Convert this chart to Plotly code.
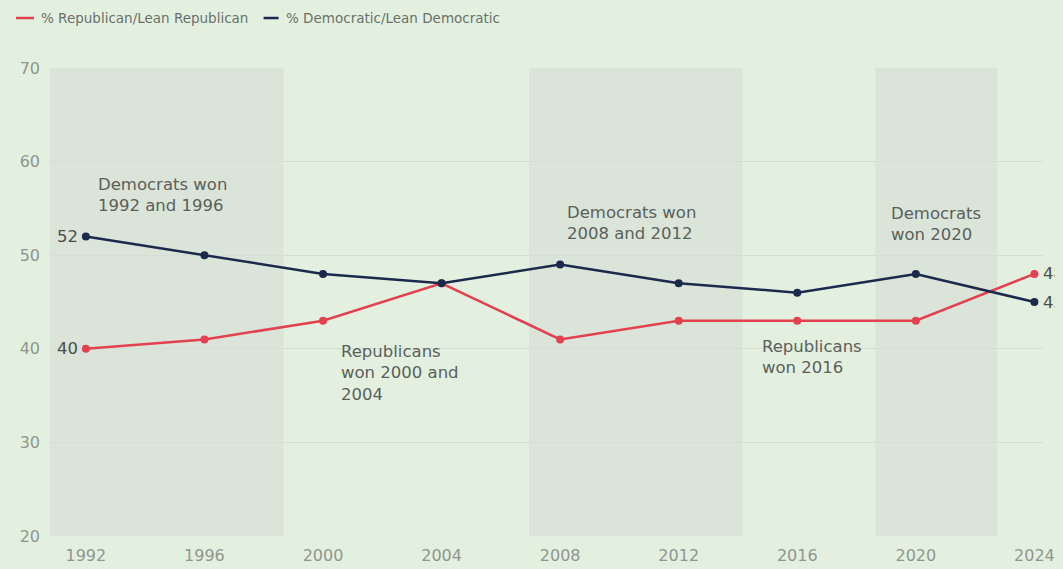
import plotly.graph_objects as go

years = [1992, 1996, 2000, 2004, 2008, 2012, 2016, 2020, 2024]
rep = [40, 41, 43, 47, 41, 43, 43, 43, 48]
dem = [52, 50, 48, 47, 49, 47, 46, 48, 45]
series_names = ["% Republican/Lean Republican", "% Democratic/Lean Democratic"]

# shaded periods (Democratic presidencies)
bands = [(1990.79, 1998.67), (2006.95, 2014.15), (2018.63, 2022.74)]

notes = [
    (1992.35, 56.4, "Democrats won<br>1992 and 1996"),
    (2008.15, 53.4, "Democrats won<br>2008 and 2012"),
    (2019.1, 53.3, "Democrats<br>won 2020"),
    (2000.55, 37.4, "Republicans<br>won 2000 and<br>2004"),
    (2014.75, 39.1, "Republicans<br>won 2016"),
]

RED = "#e3414f"
NAVY = "#1b2a4c"
BG = "#e3f0e0"
FONT = "DejaVu Sans, sans-serif"

fig = go.Figure()
fig.add_trace(go.Scatter(
    x=years, y=rep, mode="lines+markers", name=series_names[0], showlegend=False,
    line=dict(color=RED, width=2.5), marker=dict(size=8, color=RED)))
fig.add_trace(go.Scatter(
    x=years, y=dem, mode="lines+markers", name=series_names[1], showlegend=False,
    line=dict(color=NAVY, width=2.5), marker=dict(size=8, color=NAVY)))

for x0, x1 in bands:
    fig.add_shape(type="rect", x0=x0, x1=x1, y0=20, y1=70, xref="x", yref="y",
                  fillcolor="#d9e2d7", line=dict(width=0), layer="below", opacity=0.85)

for x, y, t in notes:
    fig.add_annotation(x=x, y=y, text=t, showarrow=False, xanchor="left", yanchor="middle",
                       align="left", font=dict(family=FONT, size=16.5, color="#5a605a"))

# end-point value labels
lab_font = dict(family=FONT, size=16.5, color="#4a4f4a")
fig.add_annotation(x=years[0], y=dem[0], text=str(dem[0]), showarrow=False, xanchor="right",
                   xshift=-6, font=lab_font)
fig.add_annotation(x=years[0], y=rep[0], text=str(rep[0]), showarrow=False, xanchor="right",
                   xshift=-6, font=lab_font)
fig.add_annotation(x=years[-1], y=rep[-1], text=str(rep[-1]), showarrow=False, xanchor="left",
                   xshift=7, font=lab_font)
fig.add_annotation(x=years[-1], y=dem[-1], text=str(dem[-1]), showarrow=False, xanchor="left",
                   xshift=7, font=lab_font)

# manual legend (short line keys)
leg = [(RED, -0.0342, -0.0161, -0.0110, series_names[0]),
       (NAVY, 0.2151, 0.2302, 0.2352, series_names[1])]
for col, lx0, lx1, tx, name in leg:
    fig.add_shape(type="line", xref="paper", yref="paper", x0=lx0, x1=lx1,
                  y0=1.1068, y1=1.1068, line=dict(color=col, width=2.5))
    fig.add_annotation(xref="paper", yref="paper", x=tx, y=1.1068, text=name,
                       showarrow=False, xanchor="left", yanchor="middle",
                       font=dict(family=FONT, size=13.5, color="#6a706a"))

fig.update_layout(
    width=1063, height=569,
    margin=dict(l=40, r=28, t=60, b=41),
    paper_bgcolor=BG, plot_bgcolor=BG,
    font=dict(family=FONT, color="#8a918a"),
    showlegend=False,
)
fig.update_xaxes(range=[1990.79, 2024.29], tickvals=years, showgrid=False, zeroline=False,
                 showline=False, ticks="", ticklabelstandoff=8,
                 tickfont=dict(family=FONT, size=16, color="#8f968f"))
fig.update_yaxes(range=[20, 70], dtick=10, showgrid=True, gridcolor="#d4dfd1", gridwidth=1,
                 zeroline=False, showline=False, ticks="", ticklabelstandoff=9,
                 tickfont=dict(family=FONT, size=16, color="#8f968f"))

fig.write_html("out.html", post_script=(
    "document.body.style.backgroundColor='%s';"
    "document.documentElement.style.backgroundColor='%s';" % (BG, BG)))
